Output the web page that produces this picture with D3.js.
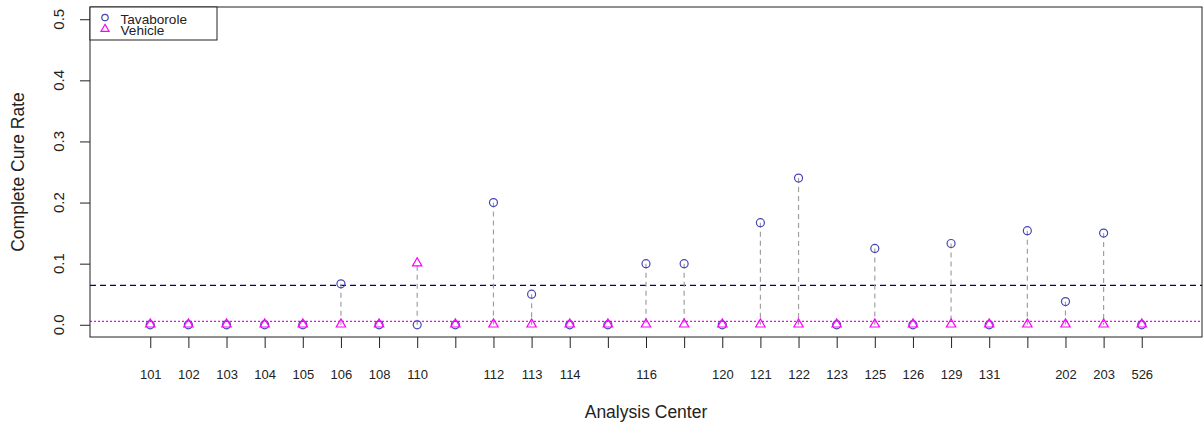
<!DOCTYPE html>
<html>
<head>
<meta charset="utf-8">
<script src="https://cdn.jsdelivr.net/npm/d3@7"></script>
<style>
  body { margin: 0; background: #fff; }
  svg { font-family: "Liberation Sans", Arial, sans-serif; }
</style>
</head>
<body>
<svg width="1204" height="428"></svg>
<script>
// Data
const centers = ["101","102","103","104","105","106","108","110","","112","113","114","","116","","120",
  "121","122","123","125","126","129","131","","202","203","526"];
const tavaborole = [0,0,0,0,0,0.067,0,0,0,0.2,0.05,0,0,0.1,0.1,0,0.167,0.24,0,0.125,0,0.133,0,0.154,0.038,0.15,0];
const vehicle =    [0,0,0,0,0,0,0,0.1,0,0,0,0,0,0,0,0,0,0,0,0,0,0,0,0,0,0,0];
const tavMean = 0.0645;
const vehMean = 0.0057;
const yTicks = [0, 0.1, 0.2, 0.3, 0.4, 0.5];

const tavColor = "#4646b4";
const vehColor = "#ff00ff";

let margin = { left: 90, right: 2, top: 7, bottom: 91 };
let W = 1204, H = 428;

let svg = d3.select("svg");

let xScale = d3.scaleLinear()
  .domain([-0.58, 28.58])
  .range([margin.left, W - margin.right]);

let yScale = d3.scaleLinear()
  .domain([-0.02, 0.52])
  .range([H - margin.bottom, margin.top]);

let idx = centers.map((c, i) => i + 1);

// Mean lines
svg.append("line")
  .attr("x1", margin.left).attr("x2", W - margin.right)
  .attr("y1", yScale(tavMean)).attr("y2", yScale(tavMean))
  .attr("stroke", "#000080").attr("stroke-width", 1.2)
  .attr("stroke-dasharray", "6,4");

svg.append("line")
  .attr("x1", margin.left).attr("x2", W - margin.right)
  .attr("y1", yScale(vehMean)).attr("y2", yScale(vehMean))
  .attr("stroke", vehColor).attr("stroke-width", 1.2)
  .attr("stroke-dasharray", "2,2");

// Grey dashed segments between the two arms
svg.append("g").selectAll("line")
  .data(idx.filter(i => tavaborole[i - 1] !== vehicle[i - 1]))
  .enter().append("line")
  .attr("x1", i => xScale(i)).attr("x2", i => xScale(i))
  .attr("y1", i => yScale(tavaborole[i - 1]))
  .attr("y2", i => yScale(vehicle[i - 1]))
  .attr("stroke", "#a0a0a0").attr("stroke-width", 1.2)
  .attr("stroke-dasharray", "5,4");

// Tavaborole circles
svg.append("g").selectAll("circle")
  .data(idx)
  .enter().append("circle")
  .attr("cx", i => xScale(i))
  .attr("cy", i => yScale(tavaborole[i - 1]))
  .attr("r", 4)
  .attr("fill", "none")
  .attr("stroke", tavColor)
  .attr("stroke-width", 1.2);

// Vehicle triangles
let tri = d3.symbol().type(d3.symbolTriangle).size(38);
svg.append("g").selectAll("path")
  .data(idx)
  .enter().append("path")
  .attr("d", tri)
  .attr("transform", i => `translate(${xScale(i)},${yScale(vehicle[i - 1]) - 0.5})`)
  .attr("fill", "none")
  .attr("stroke", vehColor)
  .attr("stroke-width", 1.2);

// Plot box
svg.append("rect")
  .attr("x", margin.left).attr("y", margin.top)
  .attr("width", W - margin.right - margin.left)
  .attr("height", H - margin.bottom - margin.top)
  .attr("fill", "none").attr("stroke", "#222").attr("stroke-width", 1);

// Y axis (ticks only, rotated labels added below)
let yAxis = d3.axisLeft(yScale)
  .tickValues(yTicks)
  .tickFormat("")
  .tickSize(10);

let yG = svg.append("g")
  .attr("transform", `translate(${margin.left},0)`)
  .call(yAxis);
yG.select(".domain").remove();
yG.selectAll(".tick line").attr("stroke", "#222");

svg.append("g").selectAll("text")
  .data(yTicks)
  .enter().append("text")
  .attr("transform", d => `translate(64,${yScale(d)}) rotate(-90)`)
  .attr("text-anchor", "middle")
  .attr("font-size", 15)
  .attr("fill", "#222")
  .text(d3.format(".1f"));

// X axis
let xAxis = d3.axisBottom(xScale)
  .tickValues(idx)
  .tickFormat(i => centers[i - 1])
  .tickSize(11)
  .tickPadding(22);

let xG = svg.append("g")
  .attr("transform", `translate(0,${H - margin.bottom})`)
  .call(xAxis);
xG.select(".domain").remove();
xG.selectAll(".tick line").attr("stroke", "#222");
xG.selectAll(".tick text")
  .attr("font-size", 13)
  .attr("fill", "#222");

// Axis titles
svg.append("text")
  .attr("x", (margin.left + W - margin.right) / 2)
  .attr("y", 418)
  .attr("text-anchor", "middle")
  .attr("font-size", 17.5)
  .attr("fill", "#222")
  .text("Analysis Center");

svg.append("text")
  .attr("transform", `translate(24,${(margin.top + H - margin.bottom) / 2}) rotate(-90)`)
  .attr("text-anchor", "middle")
  .attr("font-size", 17.5)
  .attr("fill", "#222")
  .text("Complete Cure Rate");

// Legend
let legend = svg.append("g").attr("class", "legend");
legend.append("rect")
  .attr("x", margin.left).attr("y", margin.top)
  .attr("width", 127).attr("height", 33)
  .attr("fill", "#fff").attr("stroke", "#222").attr("stroke-width", 1);

legend.append("circle")
  .attr("cx", 105).attr("cy", 17.5).attr("r", 3.2)
  .attr("fill", "none").attr("stroke", tavColor).attr("stroke-width", 1.2);
legend.append("path")
  .attr("d", d3.symbol().type(d3.symbolTriangle).size(28))
  .attr("transform", "translate(105,29)")
  .attr("fill", "none").attr("stroke", vehColor).attr("stroke-width", 1.2);

legend.append("text").attr("x", 120.5).attr("y", 23.5)
  .attr("font-size", 13.6).attr("fill", "#222").text("Tavaborole");
legend.append("text").attr("x", 120.5).attr("y", 35)
  .attr("font-size", 13.6).attr("fill", "#222").text("Vehicle");
</script>
</body>
</html>
